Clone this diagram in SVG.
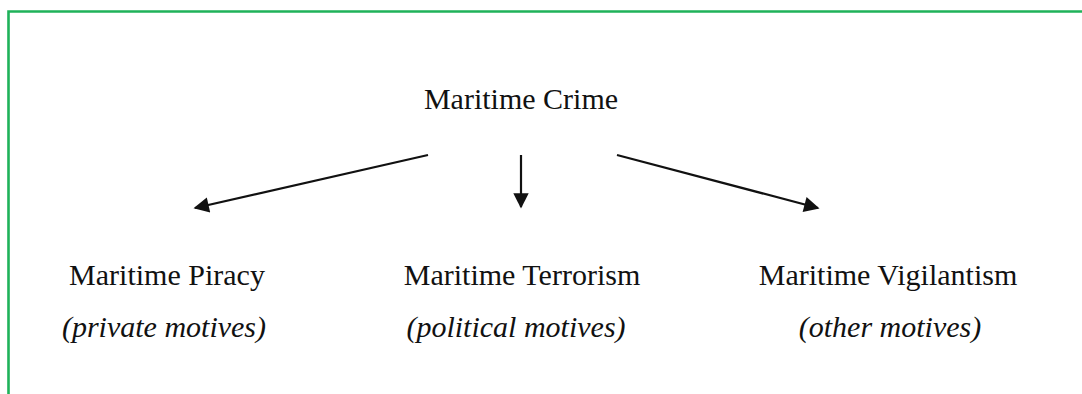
<svg xmlns="http://www.w3.org/2000/svg" width="1082" height="394" viewBox="0 0 1082 394">
<style>
.t{font-family:"Liberation Serif","Times New Roman",serif;font-size:30px;fill:#111;text-anchor:middle}
.i{font-style:italic}
.c{stroke:#111;stroke-width:2.2;fill:none;marker-end:url(#ah)}
.frame{stroke:#1fb25a;stroke-width:2.6;fill:none}
</style>
<defs>
<marker id="ah" viewBox="0 0 10 10" refX="9" refY="5" markerWidth="7.5" markerHeight="7" markerUnits="strokeWidth" orient="auto">
<path d="M0,0 L10,5 L0,10 z" fill="#111"/>
</marker>
</defs>
<rect width="1082" height="394" fill="#fff"/>
<path class="frame" d="M8.5,394 V11.5 H1082"/>
<g id="crime"><text class="t" x="521" y="109">Maritime Crime</text></g>
<g id="piracy"><text class="t" x="167" y="285">Maritime Piracy</text><text class="t i" x="164" y="337">(private motives)</text></g>
<g id="terrorism"><text class="t" x="522" y="285">Maritime Terrorism</text><text class="t i" x="516" y="337">(political motives)</text></g>
<g id="vigilantism"><text class="t" x="888" y="285">Maritime Vigilantism</text><text class="t i" x="890" y="337">(other motives)</text></g>
<g id="connectors">
<line class="c" x1="428" y1="155" x2="195" y2="208"/>
<line class="c" x1="521" y1="155" x2="521" y2="207"/>
<line class="c" x1="617" y1="155" x2="818" y2="208"/>
</g>
</svg>
